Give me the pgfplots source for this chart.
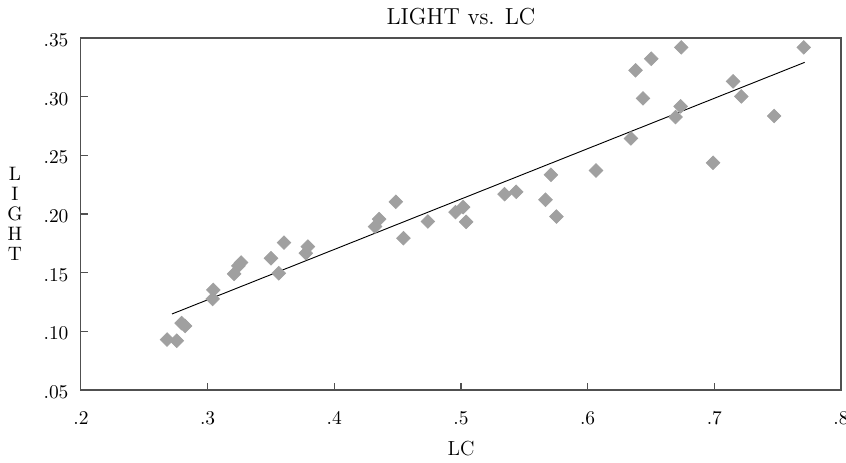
\documentclass[border=0pt]{standalone}
\usepackage{pgfplots}
\pgfplotsset{compat=1.18}
\definecolor{markgray}{RGB}{160,160,160}
\definecolor{framegray}{RGB}{80,80,80}

\begin{document}
\begin{tikzpicture}
\begin{axis}[
    scale only axis,
    width=410.4pt,
    height=190.1pt,
    xmin=0.2, xmax=0.8,
    ymin=0.05, ymax=0.35,
    xtick={0.2,0.3,0.4,0.5,0.6,0.7,0.8},
    xticklabels={.2,.3,.4,.5,.6,.7,.8},
    ytick={0.05,0.10,0.15,0.20,0.25,0.30,0.35},
    yticklabels={.05,.10,.15,.20,.25,.30,.35},
    tick pos=left,
    tick align=inside,
    major tick length=3.6pt,
    axis line style={framegray, line width=0.6pt},
    every tick/.style={framegray, line width=0.6pt},
    tick label style={font=\fontsize{10.5}{12}\selectfont},
    xticklabel style={anchor=center, yshift=-15pt},
    yticklabel style={anchor=east, xshift=-3.2pt, yshift=-1.2pt},
    title={LIGHT vs. LC},
    every axis title shift=0pt,
    title style={font=\fontsize{12.5}{14}\selectfont, at={(0.5,1)}, anchor=center, yshift=11.7pt},
    xlabel={LC},
    xlabel style={font=\fontsize{11}{13}\selectfont, at={(0.5,0)}, anchor=center, yshift=-31.6pt},
    ylabel={L\\I\\G\\H\\T},
    ylabel style={rotate=-90, align=center, font=\fontsize{10.5}{10.8}\selectfont,
                  at={(0,0.5)}, anchor=center, xshift=-35.6pt},
    clip=false,
]
% fitted line
\addplot[black, line width=0.5pt] coordinates {(0.2719,0.1148) (0.7713,0.3292)};
% observations
\addplot[only marks, mark=square*, mark size=2.6pt,
         mark options={rotate=45, fill=markgray, draw=markgray}]
  table {
x y
0.268 0.093
0.2756 0.092
0.2795 0.107
0.2822 0.1046
0.3045 0.1353
0.304 0.1276
0.3209 0.149
0.3243 0.1558
0.3264 0.1586
0.350 0.1623
0.3562 0.1495
0.3603 0.1756
0.3775 0.1666
0.3791 0.1722
0.4322 0.1893
0.4354 0.1956
0.4546 0.1794
0.4486 0.2104
0.4739 0.1936
0.4957 0.2016
0.5017 0.2058
0.5041 0.1933
0.5344 0.2169
0.5436 0.2189
0.5667 0.2121
0.5710 0.2334
0.5754 0.1978
0.6066 0.2371
0.6342 0.2644
0.6378 0.3224
0.6437 0.2985
0.6502 0.3323
0.6694 0.2826
0.6734 0.2917
0.6739 0.3420
0.6990 0.2436
0.7148 0.3130
0.7213 0.3002
0.7472 0.2835
0.7706 0.3420
};
\end{axis}
\pgfresetboundingbox
\path[use as bounding box] ([xshift=-43.7pt,yshift=-38.9pt]current axis.south west)
  rectangle ([xshift=2.7pt,yshift=20.5pt]current axis.north east);
\end{tikzpicture}
\end{document}
